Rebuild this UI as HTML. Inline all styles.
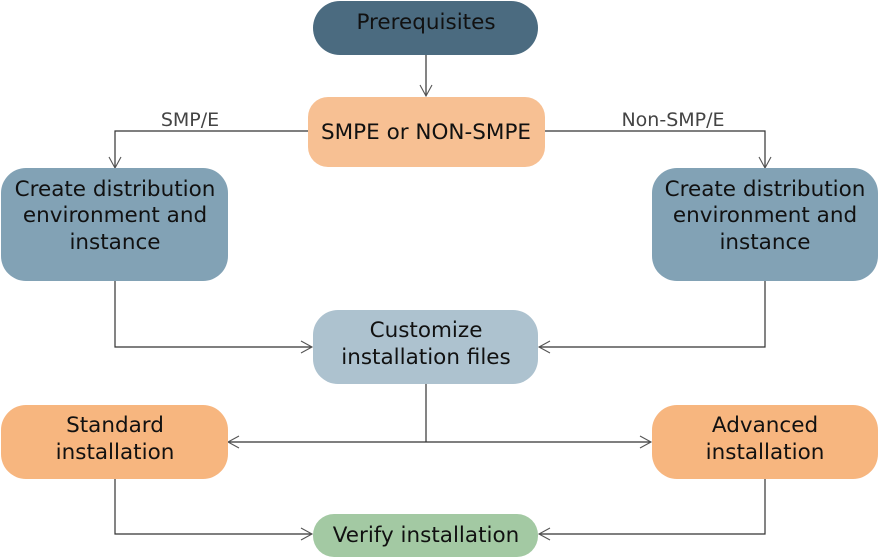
<!DOCTYPE html>
<html><head><meta charset="utf-8"><style>
html,body{margin:0;padding:0;background:#fff;width:887px;height:559px;overflow:hidden}
text{font-family:"DejaVu Sans","Liberation Sans",sans-serif;font-size:21.5px;fill:#111;text-anchor:middle}
.l{font-size:19px;fill:#444}
</style></head><body>
<svg width="887" height="559" viewBox="0 0 887 559">
<defs><marker id="a" markerWidth="14" markerHeight="14" refX="12" refY="7" orient="auto" markerUnits="userSpaceOnUse"><path d="M1,1 L12,7 L1,13" fill="none" stroke="#555" stroke-width="1.1"/></marker></defs>
<g fill="none" stroke="#333" stroke-width="1.2">
<path d="M426,55 V96" marker-end="url(#a)"/>
<path d="M308,131 H115 V168" marker-end="url(#a)"/>
<path d="M545,131 H765 V168" marker-end="url(#a)"/>
<path d="M115,281 V347 H312" marker-end="url(#a)"/>
<path d="M765,281 V347 H539" marker-end="url(#a)"/>
<path d="M426,384 V442"/>
<path d="M426,442 H228" marker-end="url(#a)"/>
<path d="M426,442 H651" marker-end="url(#a)"/>
<path d="M115,479 V534 H312" marker-end="url(#a)"/>
<path d="M765,479 V534 H539" marker-end="url(#a)"/>
</g>
<rect x="313" y="1" width="225" height="54" rx="27" fill="#4b6b80"/>
<rect x="308" y="97" width="237" height="70" rx="20" fill="#f7c093"/>
<rect x="1" y="168" width="227" height="113" rx="25" fill="#82a2b5"/>
<rect x="652" y="168" width="226" height="113" rx="25" fill="#82a2b5"/>
<rect x="313" y="310" width="225" height="74" rx="25" fill="#adc2cf"/>
<rect x="1" y="405" width="227" height="74" rx="25" fill="#f7b67f"/>
<rect x="652" y="405" width="226" height="74" rx="25" fill="#f7b67f"/>
<rect x="313" y="514" width="225" height="43" rx="21" fill="#a3c9a3"/>
<text x="426" y="29">Prerequisites</text>
<text x="426" y="139">SMPE or NON-SMPE</text>
<text class="l" x="190" y="126">SMP/E</text>
<text class="l" x="673" y="126">Non-SMP/E</text>
<text x="115" y="196">Create distribution</text>
<text x="115" y="222">environment and</text>
<text x="115" y="249">instance</text>
<text x="765" y="196">Create distribution</text>
<text x="765" y="222">environment and</text>
<text x="765" y="249">instance</text>
<text x="426" y="337">Customize</text>
<text x="426" y="364">installation files</text>
<text x="115" y="432">Standard</text>
<text x="115" y="459">installation</text>
<text x="765" y="432">Advanced</text>
<text x="765" y="459">installation</text>
<text x="426" y="542">Verify installation</text>
</svg>
</body></html>
